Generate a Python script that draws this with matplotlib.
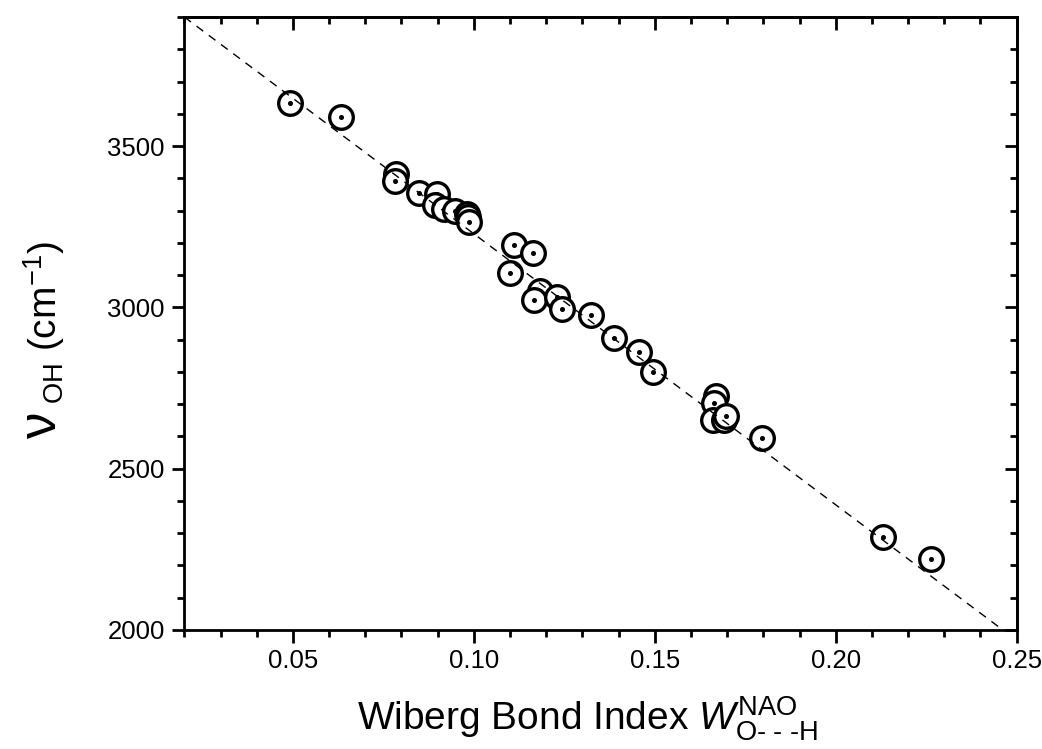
import matplotlib
matplotlib.use("Agg")
import matplotlib.pyplot as plt
import numpy as np
from matplotlib.ticker import MultipleLocator

# Wiberg bond index vs O-H stretching frequency
wbi = [0.0493, 0.0634, 0.0785, 0.0781, 0.0848, 0.0899, 0.0894, 0.0917,
       0.0949, 0.0982, 0.0983, 0.0986, 0.1110, 0.1164, 0.1100, 0.1184,
       0.1166, 0.1230, 0.1243, 0.1323, 0.1387, 0.1455, 0.1494, 0.1669,
       0.1664, 0.1660, 0.1692, 0.1696, 0.1796, 0.2130, 0.2262]
nu_oh = [3633, 3590, 3414, 3392, 3354, 3350, 3317, 3304,
         3300, 3290, 3280, 3264, 3193, 3169, 3107, 3051,
         3023, 3031, 2994, 2976, 2904, 2863, 2799, 2725,
         2703, 2651, 2651, 2663, 2594, 2289, 2219]

# linear fit (dashed line)
fit_intercept = 4068.0
fit_slope = -8400.0

x_ticks = [0.05, 0.10, 0.15, 0.20, 0.25]
y_ticks = [2000, 2500, 3000, 3500]

plt.rcParams["font.family"] = ["Liberation Sans", "DejaVu Sans"]
plt.rcParams["mathtext.fontset"] = "custom"
plt.rcParams["mathtext.rm"] = "Liberation Sans"
plt.rcParams["mathtext.it"] = "Liberation Sans:italic"

W, H = 1042, 749
fig = plt.figure(figsize=(W / 100, H / 100), dpi=100)
ax = fig.add_axes([0.1769, 0.1589, 0.7988, 0.8184])

# points: white-filled circles with a dot in the middle
for i, (x, y) in enumerate(zip(wbi, nu_oh)):
    ax.plot(x, y, "o", ms=17, mfc="white", mec="black", mew=2.4, zorder=3 + 2 * i)
    ax.plot(x, y, "o", ms=2.6, color="black", zorder=4 + 2 * i)

xx = np.array([0.02, 0.25])
ax.plot(xx, fit_intercept + fit_slope * xx, color="black", lw=1.0,
        ls=(0, (6, 5)), zorder=200)

ax.set_xlim(0.02, 0.25)
ax.set_ylim(2000, 3900)
ax.set_xticks(x_ticks)
ax.set_xticklabels([f"{t:.2f}" for t in x_ticks])
ax.set_yticks(y_ticks)
ax.xaxis.set_minor_locator(MultipleLocator(0.01))
ax.yaxis.set_minor_locator(MultipleLocator(100))

for s in ax.spines.values():
    s.set_linewidth(2.0)
ax.tick_params(which="major", direction="out", length=9, width=2.0,
               labelsize=18.5, pad=5)
ax.tick_params(which="minor", direction="out", length=5, width=2.0)

# mirrored ticks on top / right pointing inwards
top = ax.secondary_xaxis("top")
top.set_xticks(x_ticks)
top.xaxis.set_minor_locator(MultipleLocator(0.01))
top.tick_params(which="major", direction="in", length=9, width=2.0, labeltop=False)
top.tick_params(which="minor", direction="in", length=5, width=2.0)
right = ax.secondary_yaxis("right")
right.set_yticks(y_ticks)
right.yaxis.set_minor_locator(MultipleLocator(100))
right.tick_params(which="major", direction="in", length=9, width=2.0, labelright=False)
right.tick_params(which="minor", direction="in", length=5, width=2.0)
for sec in (top, right):
    for s in sec.spines.values():
        s.set_linewidth(2.0)

ax.set_xlabel(r"Wiberg Bond Index $W^{\mathrm{NAO}}_{\mathrm{O\text{- - -}H}}$",
              fontsize=28)
ax.xaxis.set_label_coords(0.484, -0.106)

# y label: large nu, then subscript and units
fig.text(42 / W, 1 - 425 / H, "ν", rotation=90, fontsize=38,
         ha="center", va="center")
fig.text(44 / W, 1 - 404 / H, r"$_{\mathrm{OH}}$ (cm$^{-1}$)", rotation=90,
         fontsize=28, ha="center", va="bottom")

fig.savefig("out.png", dpi=100)
